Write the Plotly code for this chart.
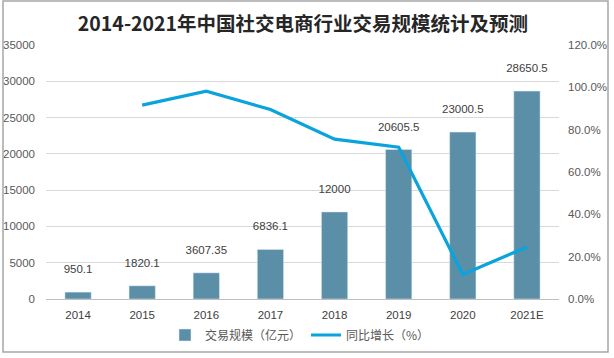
import plotly.graph_objects as go

years = ["2014", "2015", "2016", "2017", "2018", "2019", "2020", "2021E"]
scale = [950.1, 1820.1, 3607.35, 6836.1, 12000, 20605.5, 23000.5, 28650.5]
scale_labels = ["950.1", "1820.1", "3607.35", "6836.1", "12000", "20605.5", "23000.5", "28650.5"]
growth = [None, 0.916, 0.982, 0.895, 0.755, 0.717, 0.116, 0.246]

font_main = "Liberation Sans, Noto Sans CJK SC, sans-serif"
font_cjk = "Noto Sans CJK SC, sans-serif"

L, R, T, B = 46, 55, 45, 59
W, H = 614, 358
pw, ph = W - L - R, H - T - B

# extra small blank line under each label to lift it a little above the bar
bar_text = [f"{s}<br><span style='font-size:5px'> </span>" for s in scale_labels]

fig = go.Figure()
fig.add_trace(go.Bar(
    x=years, y=scale, name="交易规模（亿元）",
    marker=dict(color="#5B8FA8"),
    text=bar_text, textposition="outside", cliponaxis=False,
    textangle=0, constraintext="none",
    textfont=dict(size=11.5, color="#404040", family=font_main),
    yaxis="y",
))
fig.add_trace(go.Scatter(
    x=years, y=growth, name="同比增长（%）", mode="lines",
    line=dict(color="#0AA3DC", width=3.2),
    yaxis="y2",
))

fig.update_layout(
    width=W, height=H,
    margin=dict(l=L, r=R, t=T, b=B, autoexpand=False),
    paper_bgcolor="white", plot_bgcolor="white",
    font=dict(family=font_main, size=11, color="#595959"),
    title=dict(text="<b>2014-2021年中国社交电商行业交易规模统计及预测</b>",
               x=303 / W, xanchor="center", y=1 - 24 / H, yanchor="middle",
               font=dict(family=font_cjk, size=19.5, color="#262626")),
    bargap=0.59,
    showlegend=True,
    legend=dict(orientation="h", x=(300 - L) / pw, xanchor="center",
                y=-(335 - (T + ph)) / ph, yanchor="middle",
                font=dict(family=font_cjk, size=12, color="#595959"),
                traceorder="normal", itemwidth=30),
    xaxis=dict(type="category", showgrid=False, showline=True, linecolor="#BFBFBF",
               linewidth=1, ticks="", ticklabelstandoff=5, automargin=False,
               tickfont=dict(size=11.5, color="#404040")),
    yaxis=dict(range=[0, 35000], dtick=5000, tickformat="d", showgrid=True,
               gridcolor="#D9D9D9", zeroline=False, showline=False, automargin=False,
               ticklabelstandoff=10, tickfont=dict(size=11.5, color="#595959")),
    yaxis2=dict(range=[0, 1.2], dtick=0.2, tickformat=".1%", overlaying="y", side="right",
                showgrid=False, zeroline=False, showline=False, ticklabelstandoff=8,
                automargin=False, tickfont=dict(size=11.5, color="#595959")),
    shapes=[dict(type="rect", xref="paper", yref="paper",
                 x0=(3 - L) / pw, x1=(608 - L) / pw,
                 y0=-(352 - (T + ph)) / ph, y1=(T + ph - 1) / ph,
                 line=dict(color="#A6A6A6", width=1.5), fillcolor="rgba(0,0,0,0)")],
)

fig.write_html("out.html",
               config={"displayModeBar": False},
               post_script="document.body.style.margin='0';document.body.style.overflow='hidden';")
